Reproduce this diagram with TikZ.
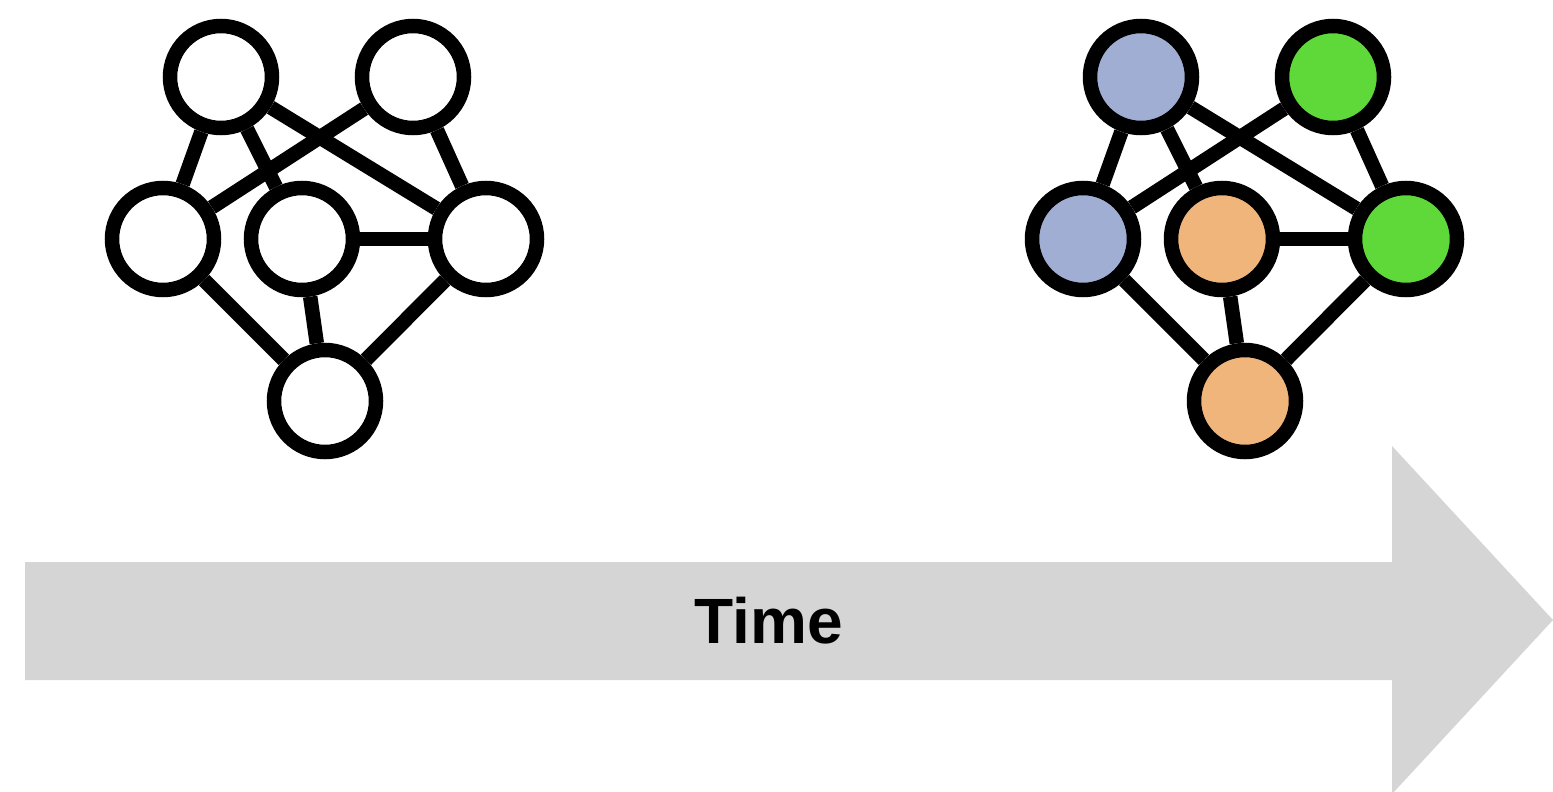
\documentclass[tikz,border=0pt]{standalone}
\usepackage{fontspec}
\setmainfont{Liberation Sans}
\usepackage{xcolor}
\usepackage{tikz}
\usetikzlibrary{positioning}

\definecolor{commblue}{RGB}{159,174,210}
\definecolor{commgreen}{RGB}{95,217,58}
\definecolor{commorange}{RGB}{240,181,123}
\definecolor{timegray}{RGB}{213,213,213}

\begin{document}
\begin{tikzpicture}[
        x=1pt, y=-1pt,
        vertex/.style={circle, draw=black, line width=14.5pt, fill=white, minimum size=102pt, inner sep=0pt},
        edge/.style={line width=14.5pt}
    ]
    \useasboundingbox (0,0) rectangle (1553,792);

    % --- TIME ARROW ---
    \fill[timegray] (25,562) -- (1392,562) -- (1392,446) -- (1553,620)
        -- (1392,794) -- (1392,680) -- (25,680) -- cycle;
    \node (time) [anchor=base, font=\bfseries\fontsize{64}{77}\selectfont] at (769,643) {Time};

    % --- BEFORE: plain graph ---
    \node (ltl) [vertex] at (221,77) {};
    \node (ltr) [vertex] at (413,77) {};
    \node (lle) [vertex] at (163,239) {};
    \node (lmi) [vertex] at (302,239) {};
    \node (lri) [vertex] at (486,239) {};
    \node (lbo) [vertex] at (325,401) {};

    \draw [edge] (ltl) -- (lle);
    \draw [edge] (ltl) -- (lmi);
    \draw [edge] (ltl) -- (lri);
    \draw [edge] (ltr) -- (lle);
    \draw [edge] (ltr) -- (lri);
    \draw [edge] (lmi) -- (lri);
    \draw [edge] (lle) -- (lbo);
    \draw [edge] (lmi) -- (lbo);
    \draw [edge] (lri) -- (lbo);

    % --- AFTER: same graph, communities coloured ---
    \node (rtl) [vertex, fill=commblue] at (1141,77) {};
    \node (rtr) [vertex, fill=commgreen] at (1333,77) {};
    \node (rle) [vertex, fill=commblue] at (1083,239) {};
    \node (rmi) [vertex, fill=commorange] at (1222,239) {};
    \node (rri) [vertex, fill=commgreen] at (1406,239) {};
    \node (rbo) [vertex, fill=commorange] at (1245,401) {};

    \draw [edge] (rtl) -- (rle);
    \draw [edge] (rtl) -- (rmi);
    \draw [edge] (rtl) -- (rri);
    \draw [edge] (rtr) -- (rle);
    \draw [edge] (rtr) -- (rri);
    \draw [edge] (rmi) -- (rri);
    \draw [edge] (rle) -- (rbo);
    \draw [edge] (rmi) -- (rbo);
    \draw [edge] (rri) -- (rbo);

\end{tikzpicture}
\end{document}
